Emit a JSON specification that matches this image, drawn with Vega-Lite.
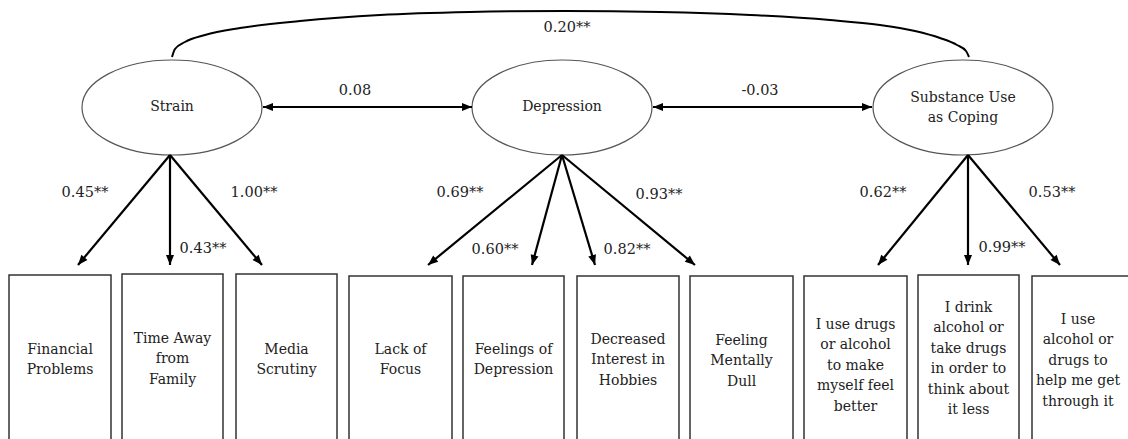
{
  "$schema": "https://vega.github.io/schema/vega-lite/v6.json",
  "width": 1128,
  "height": 439,
  "autosize": "none",
  "padding": 0,
  "background": "white",
  "config": {"view": {"stroke": null}},
  "datasets": {
    "boxes": [
      {"left": 9, "right": 111, "top": 275, "bottom": 470, "cx": 60, "ty": 350, "label": "Financial\nProblems"},
      {"left": 122, "right": 223, "top": 274, "bottom": 470, "cx": 172.5, "ty": 339, "label": "Time Away\nfrom\nFamily"},
      {"left": 236, "right": 337, "top": 274, "bottom": 470, "cx": 286.5, "ty": 350, "label": "Media\nScrutiny"},
      {"left": 349, "right": 452, "top": 276, "bottom": 470, "cx": 400.5, "ty": 350, "label": "Lack of\nFocus"},
      {"left": 463, "right": 564, "top": 276, "bottom": 470, "cx": 513.5, "ty": 350, "label": "Feelings of\nDepression"},
      {"left": 577, "right": 679, "top": 276, "bottom": 470, "cx": 628, "ty": 340, "label": "Decreased\nInterest in\nHobbies"},
      {"left": 690, "right": 793, "top": 276, "bottom": 470, "cx": 741.5, "ty": 341, "label": "Feeling\nMentally\nDull"},
      {"left": 804, "right": 907, "top": 276, "bottom": 470, "cx": 855.5, "ty": 325, "label": "I use drugs\nor alcohol\nto make\nmyself feel\nbetter"},
      {"left": 918, "right": 1019, "top": 275, "bottom": 470, "cx": 968.5, "ty": 308, "label": "I drink\nalcohol or\ntake drugs\nin order to\nthink about\nit less"},
      {"left": 1032, "right": 1140, "top": 276, "bottom": 470, "cx": 1078, "ty": 320, "label": "I use\nalcohol or\ndrugs to\nhelp me get\nthrough it"}
    ],
    "arc": [
      {"x": 172, "y": 57}, {"x": 175, "y": 49}, {"x": 185, "y": 42}, {"x": 205, "y": 35},
      {"x": 240, "y": 28}, {"x": 300, "y": 21}, {"x": 380, "y": 15}, {"x": 470, "y": 12},
      {"x": 565, "y": 11}, {"x": 660, "y": 12}, {"x": 750, "y": 15}, {"x": 830, "y": 20},
      {"x": 880, "y": 25}, {"x": 915, "y": 31}, {"x": 940, "y": 38}, {"x": 957, "y": 45},
      {"x": 966, "y": 51}, {"x": 969, "y": 57}
    ],
    "latents": [
      {"x": 172, "y": 107.5, "label": "Strain", "ty": 107},
      {"x": 562, "y": 107.5, "label": "Depression", "ty": 107},
      {"x": 963, "y": 107.5, "label": "Substance Use\nas Coping", "ty": 98}
    ],
    "paths": [
      {"fx": 263, "fy": 107, "tx": 472, "ty": 107, "both": true},
      {"fx": 653, "fy": 107, "tx": 872, "ty": 107, "both": true},
      {"fx": 170, "fy": 155, "tx": 78, "ty": 265, "both": false},
      {"fx": 170, "fy": 155, "tx": 170, "ty": 265, "both": false},
      {"fx": 170, "fy": 155, "tx": 262, "ty": 265, "both": false},
      {"fx": 562, "fy": 155, "tx": 428, "ty": 265, "both": false},
      {"fx": 562, "fy": 155, "tx": 532, "ty": 265, "both": false},
      {"fx": 562, "fy": 155, "tx": 595, "ty": 265, "both": false},
      {"fx": 562, "fy": 155, "tx": 695, "ty": 265, "both": false},
      {"fx": 968, "fy": 155, "tx": 878, "ty": 265, "both": false},
      {"fx": 968, "fy": 155, "tx": 968, "ty": 265, "both": false},
      {"fx": 968, "fy": 155, "tx": 1060, "ty": 265, "both": false}
    ],
    "coefs": [
      {"x": 567, "y": 28, "label": "0.20**"},
      {"x": 355, "y": 91, "label": "0.08"},
      {"x": 760, "y": 91, "label": "-0.03"},
      {"x": 85, "y": 193, "label": "0.45**"},
      {"x": 203, "y": 249, "label": "0.43**"},
      {"x": 254, "y": 193, "label": "1.00**"},
      {"x": 460, "y": 193, "label": "0.69**"},
      {"x": 495, "y": 250, "label": "0.60**"},
      {"x": 627, "y": 250, "label": "0.82**"},
      {"x": 659, "y": 195, "label": "0.93**"},
      {"x": 883, "y": 193, "label": "0.62**"},
      {"x": 1002, "y": 248, "label": "0.99**"},
      {"x": 1052, "y": 193, "label": "0.53**"}
    ]
  },
  "layer": [
    {
      "data": {"name": "boxes"},
      "mark": {"type": "rect", "fill": "white", "stroke": "#333333", "strokeWidth": 1.5},
      "encoding": {
        "x": {"field": "left", "type": "quantitative", "scale": {"domain": [0, 1128], "zero": false, "nice": false}, "axis": null},
        "x2": {"field": "right"},
        "y": {"field": "top", "type": "quantitative", "scale": {"domain": [0, 439], "reverse": true, "zero": false, "nice": false}, "axis": null},
        "y2": {"field": "bottom"}
      }
    },
    {
      "data": {"name": "boxes"},
      "mark": {"type": "text", "font": "DejaVu Serif", "fontSize": 14, "lineHeight": 20.4, "lineBreak": "\n", "align": "center", "baseline": "middle", "color": "#222222"},
      "encoding": {
        "x": {"field": "cx", "type": "quantitative"},
        "y": {"field": "ty", "type": "quantitative"},
        "text": {"field": "label"}
      }
    },
    {
      "data": {"name": "arc"},
      "mark": {"type": "line", "interpolate": "monotone", "color": "black", "strokeWidth": 2},
      "encoding": {
        "x": {"field": "x", "type": "quantitative"},
        "y": {"field": "y", "type": "quantitative"}
      }
    },
    {
      "data": {"name": "latents"},
      "mark": {"type": "point", "shape": "M-1,0A1,0.528 0 1,1 1,0A1,0.528 0 1,1 -1,0Z", "size": 32400, "filled": true, "fill": "white", "stroke": "#555555", "strokeWidth": 1.2, "opacity": 1, "fillOpacity": 1, "strokeOpacity": 1},
      "encoding": {
        "x": {"field": "x", "type": "quantitative"},
        "y": {"field": "y", "type": "quantitative"}
      }
    },
    {
      "data": {"name": "latents"},
      "mark": {"type": "text", "font": "DejaVu Serif", "fontSize": 14, "lineHeight": 20, "lineBreak": "\n", "align": "center", "baseline": "middle", "color": "#222222"},
      "encoding": {
        "x": {"field": "x", "type": "quantitative"},
        "y": {"field": "ty", "type": "quantitative"},
        "text": {"field": "label"}
      }
    },
    {
      "data": {"name": "paths"},
      "mark": {"type": "rule", "color": "black", "strokeWidth": 2.2},
      "encoding": {
        "x": {"field": "fx", "type": "quantitative"},
        "y": {"field": "fy", "type": "quantitative"},
        "x2": {"field": "tx"},
        "y2": {"field": "ty"}
      }
    },
    {
      "data": {"name": "paths"},
      "transform": [{"calculate": "atan2(datum.tx - datum.fx, -(datum.ty - datum.fy)) * 180 / PI", "as": "ang"}],
      "mark": {"type": "point", "shape": "M0,0L-0.4,1L0.4,1Z", "size": 400, "filled": true, "color": "black", "opacity": 1},
      "encoding": {
        "x": {"field": "tx", "type": "quantitative"},
        "y": {"field": "ty", "type": "quantitative"},
        "angle": {"field": "ang", "type": "quantitative", "scale": null}
      }
    },
    {
      "data": {"name": "paths"},
      "transform": [
        {"filter": "datum.both"},
        {"calculate": "atan2(datum.fx - datum.tx, -(datum.fy - datum.ty)) * 180 / PI", "as": "ang"}
      ],
      "mark": {"type": "point", "shape": "M0,0L-0.4,1L0.4,1Z", "size": 400, "filled": true, "color": "black", "opacity": 1},
      "encoding": {
        "x": {"field": "fx", "type": "quantitative"},
        "y": {"field": "fy", "type": "quantitative"},
        "angle": {"field": "ang", "type": "quantitative", "scale": null}
      }
    },
    {
      "data": {"name": "coefs"},
      "mark": {"type": "text", "font": "DejaVu Serif", "fontSize": 14.5, "align": "center", "baseline": "middle", "color": "#222222"},
      "encoding": {
        "x": {"field": "x", "type": "quantitative"},
        "y": {"field": "y", "type": "quantitative"},
        "text": {"field": "label"}
      }
    }
  ]
}
